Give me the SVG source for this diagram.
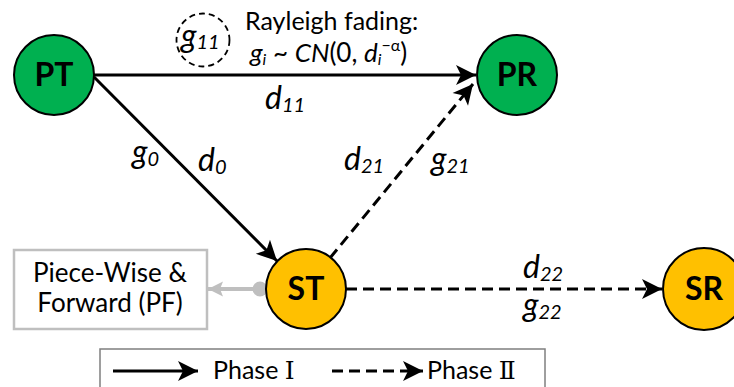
<svg xmlns="http://www.w3.org/2000/svg" width="734" height="387" viewBox="0 0 734 387">
<style>
text{font-family:Lato,"Liberation Sans",sans-serif;fill:#000}
.node{stroke:#000;stroke-width:2}
.green{fill:#00B050}
.gold{fill:#FFC000}
.nlabel{font-weight:bold;font-size:32px;text-anchor:middle}
.edge{stroke:#000;stroke-width:3;fill:none}
.dash{stroke-dasharray:11 6}
.lbl{font-style:italic;font-size:32px}
.sub{font-size:20px;font-style:italic}
.txt{font-size:26px}
</style>
<defs>
<marker id="ah" markerUnits="userSpaceOnUse" markerWidth="26" markerHeight="24" viewBox="-22 -12 24 24" refX="0" refY="0" orient="auto">
<path d="M0,0 L-20,-10 L-15,0 L-20,10 Z" fill="#000"/>
</marker>
<marker id="ahg" markerUnits="userSpaceOnUse" markerWidth="24" markerHeight="20" viewBox="-20 -10 22 20" refX="0" refY="0" orient="auto">
<path d="M0,0 L-15,-7.5 L-12,0 L-15,7.5 Z" fill="#BFBFBF"/>
</marker>
</defs>
<rect width="734" height="387" fill="#fff"/>
<g id="connectors">
<line class="edge" x1="94" y1="75" x2="476" y2="75" marker-end="url(#ah)"/>
<line class="edge" x1="94" y1="77" x2="277" y2="261" marker-end="url(#ah)"/>
<line class="edge dash" x1="330" y1="258" x2="473" y2="84" marker-end="url(#ah)"/>
<line class="edge dash" x1="346" y1="289" x2="662" y2="289" marker-end="url(#ah)"/>
<line x1="260" y1="289" x2="208" y2="289" stroke="#BFBFBF" stroke-width="4" marker-end="url(#ahg)"/>
<circle cx="260" cy="289" r="7.5" fill="#BFBFBF"/>
</g>
<g id="PT"><circle class="node green" cx="54" cy="75" r="40"/><text class="nlabel" x="54" y="86">PT</text></g>
<g id="PR"><circle class="node green" cx="517" cy="75" r="40"/><text class="nlabel" x="517" y="86">PR</text></g>
<g id="ST"><circle class="node gold" cx="306" cy="289" r="40"/><text class="nlabel" x="306" y="300">ST</text></g>
<g id="SR"><circle class="node gold" cx="704" cy="289" r="41"/><text class="nlabel" x="704" y="300">SR</text></g>
<g id="PF">
<rect x="14" y="250" width="193" height="79" fill="#fff" stroke="#BFBFBF" stroke-width="2.5"/>
<text class="txt" x="110" y="282" text-anchor="middle">Piece-Wise &amp;</text>
<text class="txt" x="110" y="312" text-anchor="middle">Forward (PF)</text>
</g>
<g id="fading">
<circle cx="203" cy="40" r="26.5" fill="none" stroke="#000" stroke-width="1.8" stroke-dasharray="6 4"/>
<text x="181" y="47"><tspan class="lbl" font-size="30">g</tspan><tspan class="sub" dy="2">11</tspan></text>
<text x="245" y="30" font-size="25">Rayleigh fading:</text>
<text x="250" y="62" font-size="26"><tspan font-style="italic">g</tspan><tspan font-style="italic" font-size="16" dy="3">i</tspan><tspan dy="-3"> ~ </tspan><tspan font-style="italic">CN</tspan>(0, <tspan font-style="italic">d</tspan><tspan font-style="italic" font-size="16" dy="3">i</tspan><tspan font-size="16" dy="-14">−α</tspan><tspan dy="11">)</tspan></text>
</g>
<g id="labels">
<text x="265" y="109"><tspan class="lbl">d</tspan><tspan class="sub" dy="3">11</tspan></text>
<text x="132" y="163"><tspan class="lbl">g</tspan><tspan class="sub" dy="3">0</tspan></text>
<text x="198" y="171"><tspan class="lbl">d</tspan><tspan class="sub" dy="3">0</tspan></text>
<text x="344" y="170"><tspan class="lbl">d</tspan><tspan class="sub" dy="3">21</tspan></text>
<text x="431" y="170"><tspan class="lbl">g</tspan><tspan class="sub" dy="3">21</tspan></text>
<text x="523" y="278"><tspan class="lbl">d</tspan><tspan class="sub" dy="3">22</tspan></text>
<text x="523" y="316"><tspan class="lbl">g</tspan><tspan class="sub" dy="3">22</tspan></text>
</g>
<g id="legend">
<rect x="100" y="349" width="445" height="45" fill="#fff" stroke="#7F7F7F" stroke-width="1.5"/>
<line class="edge" x1="113" y1="371" x2="198" y2="371" marker-end="url(#ah)"/>
<text x="213" y="379" font-size="25">Phase <tspan font-family="'DejaVu Serif','Liberation Serif',serif">Ⅰ</tspan></text>
<line class="edge dash" x1="332" y1="371" x2="423" y2="371" marker-end="url(#ah)"/>
<text x="427" y="379" font-size="25">Phase <tspan font-family="'DejaVu Serif','Liberation Serif',serif">Ⅱ</tspan></text>
</g>
</svg>
